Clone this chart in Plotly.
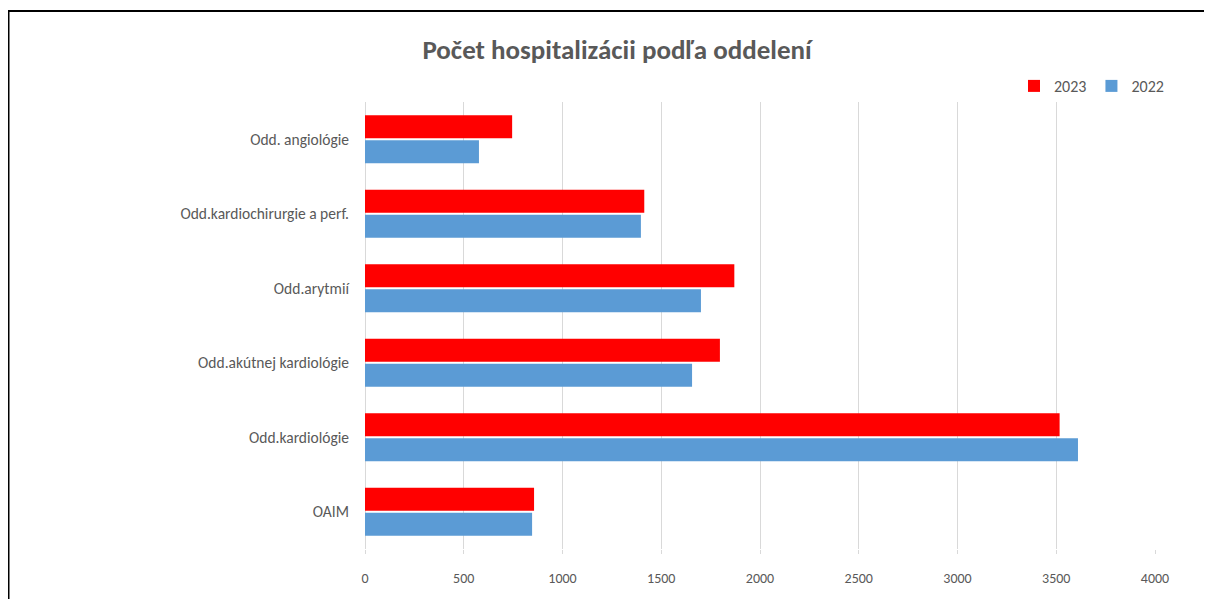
import plotly.graph_objects as go

categories = ["OAIM", "Odd.kardiológie", "Odd.akútnej kardiológie", "Odd.arytmií",
              "Odd.kardiochirurgie a perf.", "Odd. angiológie"]
values_2022 = [846, 3610, 1656, 1701, 1397, 577]
values_2023 = [856, 3517, 1797, 1870, 1414, 745]
x_ticks = [0, 500, 1000, 1500, 2000, 2500, 3000, 3500, 4000]

FONT = "Carlito, Calibri, Lato, sans-serif"
GRAY = "#595959"

fig = go.Figure()
fig.add_trace(go.Bar(y=categories, x=values_2022, name="2022", orientation="h",
                     marker=dict(color="#5B9BD5", line=dict(width=0))))
fig.add_trace(go.Bar(y=categories, x=values_2023, name="2023", orientation="h",
                     marker=dict(color="#FF0000", line=dict(width=0))))

# page has an 8px body margin; work in reference pixel coords and subtract it
OFF = 8
W, H = 1212 - OFF, 599 - OFF
PL, PR, PT, PB = 365 - OFF, 1155 - OFF, 102 - OFF, 549 - OFF
pw, ph = PR - PL, PB - PT


def px(xr):
    return (xr - OFF - PL) / pw


def py(yr):
    return (PB - (yr - OFF)) / ph


fig.update_layout(
    width=W, height=H,
    margin=dict(l=PL, r=W - PR, t=PT, b=H - PB),
    paper_bgcolor="white", plot_bgcolor="white",
    barmode="group", bargap=0.33, bargroupgap=0.08,
    title=dict(text="<b>Počet hospitalizácii podľa oddelení</b>",
               x=px(617), xanchor="center", xref="paper",
               y=1 - (50 - OFF) / H, yanchor="middle",
               font=dict(family=FONT, size=27, color=GRAY)),
    font=dict(family=FONT, size=15, color=GRAY),
    legend=dict(orientation="h", traceorder="reversed", x=px(1169), xanchor="right",
                y=py(86), yanchor="middle", font=dict(size=16, color=GRAY),
                itemwidth=30, bgcolor="rgba(0,0,0,0)"),
    xaxis=dict(range=[0, 4000], tickvals=x_ticks, showgrid=True, gridcolor="#D9D9D9",
               gridwidth=1, zeroline=True, zerolinecolor="#D9D9D9", zerolinewidth=1,
               showline=False, ticks="outside", ticklen=4, tickcolor="#D9D9D9",
               ticklabelstandoff=12, tickfont=dict(size=14, color=GRAY)),
    yaxis=dict(categoryorder="array", categoryarray=categories, showgrid=False,
               zeroline=False, showline=False, ticks="", ticklabelstandoff=15,
               tickfont=dict(size=15.5, color=GRAY)),
    shapes=[
        dict(type="line", xref="paper", yref="paper", x0=px(7), x1=px(1212), y0=py(11), y1=py(11),
             line=dict(color="black", width=2)),
        dict(type="line", xref="paper", yref="paper", x0=px(8.5), x1=px(8.5), y0=py(11), y1=py(599),
             line=dict(color="black", width=2)),
    ],
)

fig.write_html("out.html", config={"displayModeBar": False})
